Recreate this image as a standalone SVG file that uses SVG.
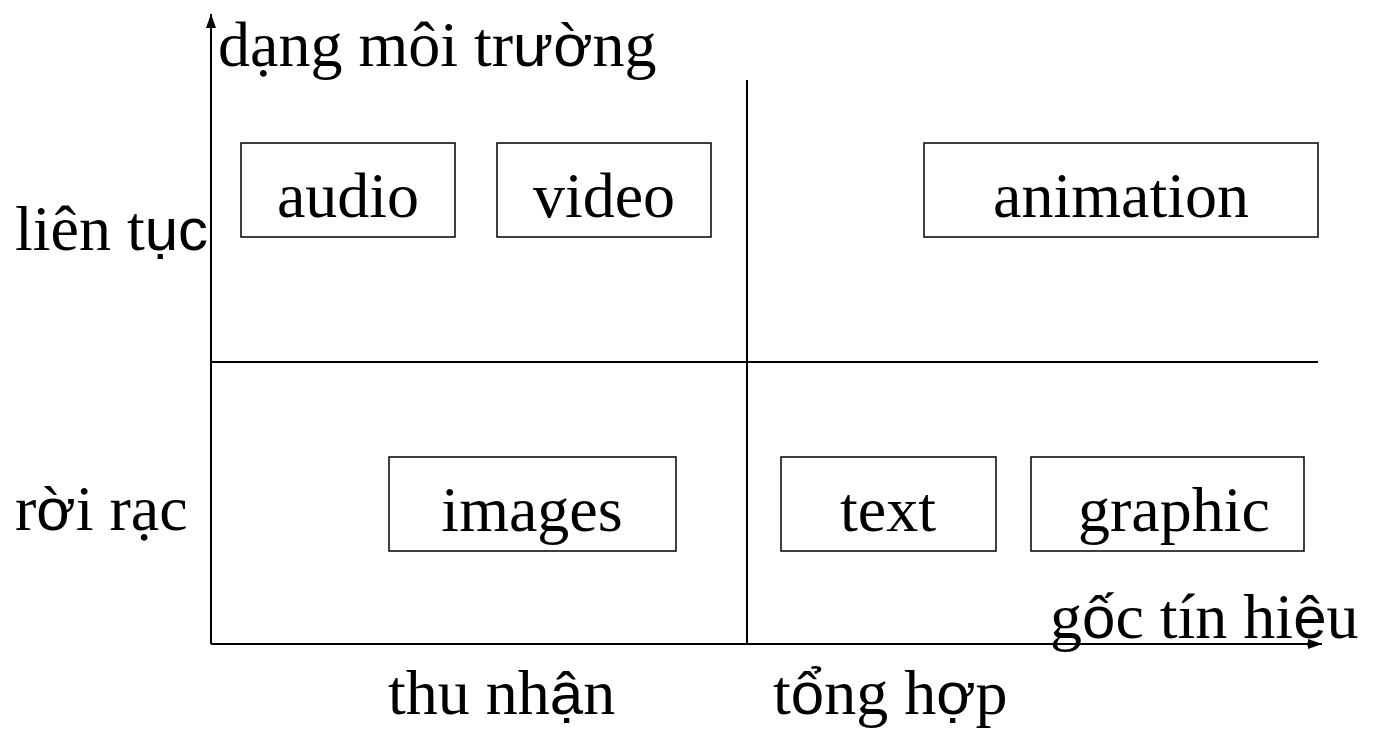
<svg xmlns="http://www.w3.org/2000/svg" width="1373" height="731" viewBox="0 0 1373 731">
  <style>
    text { font-family: "Liberation Serif", "Times New Roman", serif; font-size: 64px; fill: #000; }
    tspan.s { font-family: "Liberation Sans", Arial, sans-serif; font-size: 60px; }
    .box { fill: #fff; stroke: #000; stroke-width: 1.5; }
    .ln { stroke: #000; stroke-width: 2; fill: none; }
  </style>
  <defs>
    <marker id="arr" viewBox="0 0 14 10" refX="14" refY="5" markerWidth="14" markerHeight="10" markerUnits="userSpaceOnUse" orient="auto">
      <path d="M0,0 L14,5 L0,10 z" fill="#000"/>
    </marker>
  </defs>

  <rect width="1373" height="731" fill="#fff"/>

  <!-- axes and quadrant dividers -->
  <g id="connectors">
    <line class="ln" x1="211" y1="644" x2="211" y2="14" marker-end="url(#arr)"/>
    <line class="ln" x1="211" y1="644" x2="1322" y2="644" marker-end="url(#arr)"/>
    <line class="ln" x1="747" y1="80" x2="747" y2="644"/>
    <line class="ln" x1="211" y1="362" x2="1318" y2="362"/>
  </g>

  <!-- axis labels -->
  <g id="label-y-axis"><text x="218" y="66">d<tspan>ạ</tspan>ng môi tr<tspan class="s">ườ</tspan>ng</text></g>
  <g id="label-continuous"><text x="15" y="250">liên t<tspan class="s">ục</tspan></text></g>
  <g id="label-discrete"><text x="15" y="530">r<tspan class="s">ờ</tspan>i r<tspan>ạ</tspan>c</text></g>
  <g id="label-x-axis"><text x="1050" y="638">g<tspan class="s">ố</tspan>c tín hi<tspan class="s">ệ</tspan>u</text></g>
  <g id="label-captured"><text x="388" y="714">thu nh<tspan class="s">ậ</tspan>n</text></g>
  <g id="label-synthesized"><text x="773" y="714">t<tspan class="s">ổ</tspan>ng h<tspan class="s">ợ</tspan>p</text></g>

  <!-- media nodes -->
  <g id="node-audio">
    <rect class="box" x="241" y="143" width="214" height="94"/>
    <text x="348" y="217" text-anchor="middle">audio</text>
  </g>
  <g id="node-video">
    <rect class="box" x="497" y="143" width="214" height="94"/>
    <text x="604" y="217" text-anchor="middle">video</text>
  </g>
  <g id="node-animation">
    <rect class="box" x="924" y="143" width="394" height="94"/>
    <text x="1121" y="217" text-anchor="middle">animation</text>
  </g>
  <g id="node-images">
    <rect class="box" x="389" y="457" width="287" height="94"/>
    <text x="532" y="531" text-anchor="middle">images</text>
  </g>
  <g id="node-text">
    <rect class="box" x="781" y="457" width="215" height="94"/>
    <text x="888" y="531" text-anchor="middle">text</text>
  </g>
  <g id="node-graphic">
    <rect class="box" x="1031" y="457" width="273" height="94"/>
    <text x="1174" y="531" text-anchor="middle">graphic</text>
  </g>
</svg>
